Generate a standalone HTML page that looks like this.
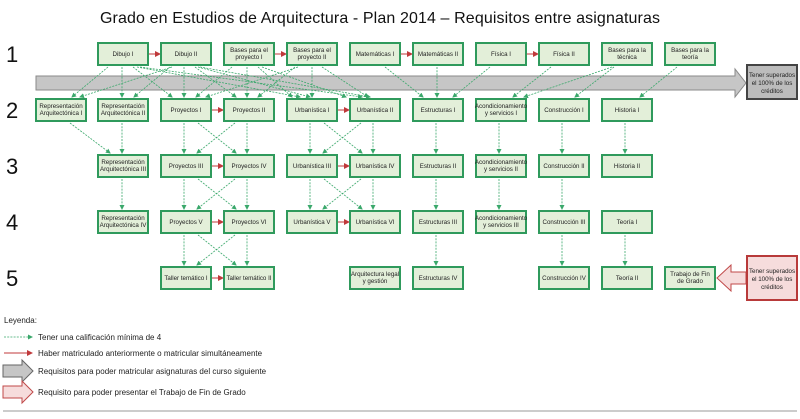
<!DOCTYPE html>
<html><head><meta charset="utf-8"><style>
html,body{margin:0;padding:0;background:#fff;}
svg{display:block;font-family:"Liberation Sans",Arial,sans-serif;}
.b{fill:#e3efd9;stroke:#2f9a5c;stroke-width:2;}
.t{font-size:6.2px;fill:#222;text-anchor:middle;}
.g{stroke:#3aa86b;stroke-width:0.8;stroke-dasharray:2,1.2;fill:none;marker-end:url(#ga);}
.r{stroke:#c0393b;stroke-width:1;fill:none;marker-end:url(#ra);}
.n{font-size:22px;fill:#111;}
.l{font-size:8px;fill:#222;}
</style></head><body>
<svg width="800" height="419" viewBox="0 0 800 419" xmlns="http://www.w3.org/2000/svg">
<defs>
<marker id="ga" markerWidth="5" markerHeight="5" refX="4" refY="2.5" orient="auto" markerUnits="userSpaceOnUse"><path d="M0,0L5,2.5L0,5z" fill="#3aa86b"/></marker>
<marker id="ra" markerWidth="6" markerHeight="6" refX="5" refY="3" orient="auto" markerUnits="userSpaceOnUse"><path d="M0,0L6,3L0,6z" fill="#c0393b"/></marker>
</defs>
<text x="380" y="23" font-size="16" text-anchor="middle" fill="#111" textLength="560">Grado en Estudios de Arquitectura - Plan 2014 – Requisitos entre asignaturas</text>
<text class="n" x="6" y="62">1</text><text class="n" x="6" y="118">2</text><text class="n" x="6" y="174">3</text><text class="n" x="6" y="230">4</text><text class="n" x="6" y="286">5</text>

<!-- gray arrow -->
<polygon points="36,76 735,76 735,69 746,83 735,97 735,90 36,90" fill="#c6c6c6" stroke="#8a8a8a" stroke-width="1"/>
<rect x="747" y="65" width="50" height="34" fill="#bcbcbc" stroke="#444" stroke-width="2"/>
<text class="t" x="772" y="77">Tener superados</text><text class="t" x="772" y="85">el 100% de los</text><text class="t" x="772" y="93">créditos</text>

<!-- green lines row1->2 -->
<g>
<line class="g" x1="108" y1="67" x2="72" y2="97"/><line class="g" x1="122" y1="67" x2="122" y2="97"/><line class="g" x1="133" y1="67" x2="172" y2="97"/><line class="g" x1="137" y1="67" x2="300" y2="97"/><line class="g" x1="140" y1="67" x2="362" y2="97"/>
<line class="g" x1="172" y1="67" x2="80" y2="97"/><line class="g" x1="184" y1="67" x2="184" y2="97"/><line class="g" x1="170" y1="67" x2="134" y2="97"/><line class="g" x1="195" y1="67" x2="236" y2="97"/><line class="g" x1="198" y1="67" x2="310" y2="97"/><line class="g" x1="200" y1="67" x2="370" y2="97"/>
<line class="g" x1="232" y1="67" x2="196" y2="97"/><line class="g" x1="247" y1="67" x2="247" y2="97"/><line class="g" x1="258" y1="67" x2="292" y2="97"/><line class="g" x1="262" y1="67" x2="346" y2="97"/>
<line class="g" x1="298" y1="67" x2="206" y2="97"/><line class="g" x1="295" y1="67" x2="258" y2="97"/><line class="g" x1="312" y1="67" x2="312" y2="97"/><line class="g" x1="322" y1="67" x2="368" y2="97"/>
<line class="g" x1="385" y1="67" x2="423" y2="97"/><line class="g" x1="437" y1="67" x2="437" y2="97"/><line class="g" x1="490" y1="67" x2="453" y2="97"/><line class="g" x1="551" y1="67" x2="513" y2="97"/><line class="g" x1="612" y1="67" x2="524" y2="97"/><line class="g" x1="614" y1="67" x2="575" y2="97"/><line class="g" x1="677" y1="67" x2="640" y2="97"/>
</g>
<!-- rows 2-5 -->
<g>
<line class="g" x1="70" y1="123" x2="110" y2="153"/><line class="g" x1="122" y1="123" x2="122" y2="153"/>
<line class="g" x1="184" y1="123" x2="184" y2="153"/><line class="g" x1="198" y1="123" x2="236" y2="153"/><line class="g" x1="235" y1="123" x2="197" y2="153"/><line class="g" x1="247" y1="123" x2="247" y2="153"/>
<line class="g" x1="310" y1="123" x2="310" y2="153"/><line class="g" x1="324" y1="123" x2="362" y2="153"/><line class="g" x1="361" y1="123" x2="323" y2="153"/><line class="g" x1="373" y1="123" x2="373" y2="153"/>
<line class="g" x1="436" y1="123" x2="436" y2="153"/><line class="g" x1="499" y1="123" x2="499" y2="153"/><line class="g" x1="562" y1="123" x2="562" y2="153"/><line class="g" x1="625" y1="123" x2="625" y2="153"/>

<line class="g" x1="122" y1="179" x2="122" y2="209"/>
<line class="g" x1="184" y1="179" x2="184" y2="209"/><line class="g" x1="198" y1="179" x2="236" y2="209"/><line class="g" x1="235" y1="179" x2="197" y2="209"/><line class="g" x1="247" y1="179" x2="247" y2="209"/>
<line class="g" x1="310" y1="179" x2="310" y2="209"/><line class="g" x1="324" y1="179" x2="362" y2="209"/><line class="g" x1="361" y1="179" x2="323" y2="209"/><line class="g" x1="373" y1="179" x2="373" y2="209"/>
<line class="g" x1="436" y1="179" x2="436" y2="209"/><line class="g" x1="499" y1="179" x2="499" y2="209"/><line class="g" x1="562" y1="179" x2="562" y2="209"/>

<line class="g" x1="184" y1="235" x2="184" y2="265"/><line class="g" x1="198" y1="235" x2="236" y2="265"/><line class="g" x1="235" y1="235" x2="197" y2="265"/><line class="g" x1="247" y1="235" x2="247" y2="265"/>
<line class="g" x1="436" y1="235" x2="436" y2="265"/><line class="g" x1="562" y1="235" x2="562" y2="265"/><line class="g" x1="625" y1="235" x2="625" y2="265"/>
</g>
<!-- red arrows -->
<g>
<line class="r" x1="149" y1="54" x2="160" y2="54"/><line class="r" x1="275" y1="54" x2="286" y2="54"/><line class="r" x1="401" y1="54" x2="412" y2="54"/><line class="r" x1="527" y1="54" x2="538" y2="54"/>
<line class="r" x1="212" y1="110" x2="223" y2="110"/><line class="r" x1="338" y1="110" x2="349" y2="110"/>
<line class="r" x1="212" y1="166" x2="223" y2="166"/><line class="r" x1="338" y1="166" x2="349" y2="166"/>
<line class="r" x1="212" y1="222" x2="223" y2="222"/><line class="r" x1="338" y1="222" x2="349" y2="222"/>
<line class="r" x1="212" y1="278" x2="223" y2="278"/>
</g>

<!-- boxes row1 -->
<g>
<rect class="b" x="98" y="43" width="50" height="22"/><text class="t" x="123" y="56">Dibujo I</text>
<rect class="b" x="161" y="43" width="50" height="22"/><text class="t" x="186" y="56">Dibujo II</text>
<rect class="b" x="224" y="43" width="50" height="22"/><text class="t" x="249" y="52">Bases para el</text><text class="t" x="249" y="59">proyecto I</text>
<rect class="b" x="287" y="43" width="50" height="22"/><text class="t" x="312" y="52">Bases para el</text><text class="t" x="312" y="59">proyecto II</text>
<rect class="b" x="350" y="43" width="50" height="22"/><text class="t" x="375" y="56">Matemáticas I</text>
<rect class="b" x="413" y="43" width="50" height="22"/><text class="t" x="438" y="56">Matemáticas II</text>
<rect class="b" x="476" y="43" width="50" height="22"/><text class="t" x="501" y="56">Física I</text>
<rect class="b" x="539" y="43" width="50" height="22"/><text class="t" x="564" y="56">Física II</text>
<rect class="b" x="602" y="43" width="50" height="22"/><text class="t" x="627" y="52">Bases para la</text><text class="t" x="627" y="59">técnica</text>
<rect class="b" x="665" y="43" width="50" height="22"/><text class="t" x="690" y="52">Bases para la</text><text class="t" x="690" y="59">teoría</text>
</g>
<!-- row2 -->
<g>
<rect class="b" x="36" y="99" width="50" height="22"/><text class="t" x="61" y="108">Representación</text><text class="t" x="61" y="115">Arquitectónica I</text>
<rect class="b" x="98" y="99" width="50" height="22"/><text class="t" x="123" y="108">Representación</text><text class="t" x="123" y="115">Arquitectónica II</text>
<rect class="b" x="161" y="99" width="50" height="22"/><text class="t" x="186" y="112">Proyectos I</text>
<rect class="b" x="224" y="99" width="50" height="22"/><text class="t" x="249" y="112">Proyectos II</text>
<rect class="b" x="287" y="99" width="50" height="22"/><text class="t" x="312" y="112">Urbanística I</text>
<rect class="b" x="350" y="99" width="50" height="22"/><text class="t" x="375" y="112">Urbanística II</text>
<rect class="b" x="413" y="99" width="50" height="22"/><text class="t" x="438" y="112">Estructuras I</text>
<rect class="b" x="476" y="99" width="50" height="22"/><text class="t" x="501" y="108" font-size="5.4">Acondicionamiento</text><text class="t" x="501" y="115">y servicios I</text>
<rect class="b" x="539" y="99" width="50" height="22"/><text class="t" x="564" y="112">Construcción I</text>
<rect class="b" x="602" y="99" width="50" height="22"/><text class="t" x="627" y="112">Historia I</text>
</g>
<!-- row3 -->
<g>
<rect class="b" x="98" y="155" width="50" height="22"/><text class="t" x="123" y="164">Representación</text><text class="t" x="123" y="171">Arquitectónica III</text>
<rect class="b" x="161" y="155" width="50" height="22"/><text class="t" x="186" y="168">Proyectos III</text>
<rect class="b" x="224" y="155" width="50" height="22"/><text class="t" x="249" y="168">Proyectos IV</text>
<rect class="b" x="287" y="155" width="50" height="22"/><text class="t" x="312" y="168">Urbanística III</text>
<rect class="b" x="350" y="155" width="50" height="22"/><text class="t" x="375" y="168">Urbanística IV</text>
<rect class="b" x="413" y="155" width="50" height="22"/><text class="t" x="438" y="168">Estructuras II</text>
<rect class="b" x="476" y="155" width="50" height="22"/><text class="t" x="501" y="164" font-size="5.4">Acondicionamiento</text><text class="t" x="501" y="171">y servicios II</text>
<rect class="b" x="539" y="155" width="50" height="22"/><text class="t" x="564" y="168">Construcción II</text>
<rect class="b" x="602" y="155" width="50" height="22"/><text class="t" x="627" y="168">Historia II</text>
</g>
<!-- row4 -->
<g>
<rect class="b" x="98" y="211" width="50" height="22"/><text class="t" x="123" y="220">Representación</text><text class="t" x="123" y="227">Arquitectónica IV</text>
<rect class="b" x="161" y="211" width="50" height="22"/><text class="t" x="186" y="224">Proyectos V</text>
<rect class="b" x="224" y="211" width="50" height="22"/><text class="t" x="249" y="224">Proyectos VI</text>
<rect class="b" x="287" y="211" width="50" height="22"/><text class="t" x="312" y="224">Urbanística V</text>
<rect class="b" x="350" y="211" width="50" height="22"/><text class="t" x="375" y="224">Urbanística VI</text>
<rect class="b" x="413" y="211" width="50" height="22"/><text class="t" x="438" y="224">Estructuras III</text>
<rect class="b" x="476" y="211" width="50" height="22"/><text class="t" x="501" y="220" font-size="5.4">Acondicionamiento</text><text class="t" x="501" y="227">y servicios III</text>
<rect class="b" x="539" y="211" width="50" height="22"/><text class="t" x="564" y="224">Construcción III</text>
<rect class="b" x="602" y="211" width="50" height="22"/><text class="t" x="627" y="224">Teoría I</text>
</g>
<!-- row5 -->
<g>
<rect class="b" x="161" y="267" width="50" height="22"/><text class="t" x="186" y="280">Taller temático I</text>
<rect class="b" x="224" y="267" width="50" height="22"/><text class="t" x="249" y="280">Taller temático II</text>
<rect class="b" x="350" y="267" width="50" height="22"/><text class="t" x="375" y="276">Arquitectura legal</text><text class="t" x="375" y="283">y gestión</text>
<rect class="b" x="413" y="267" width="50" height="22"/><text class="t" x="438" y="280">Estructuras IV</text>
<rect class="b" x="539" y="267" width="50" height="22"/><text class="t" x="564" y="280">Construcción IV</text>
<rect class="b" x="602" y="267" width="50" height="22"/><text class="t" x="627" y="280">Teoría II</text>
<rect class="b" x="665" y="267" width="50" height="22"/><text class="t" x="690" y="276">Trabajo de Fin</text><text class="t" x="690" y="283">de Grado</text>
</g>
<!-- red arrow & box -->
<polygon points="746,272 731,272 731,265 717,278 731,291 731,284 746,284" fill="#f6dcdc" stroke="#c04848" stroke-width="1"/>
<rect x="747" y="256" width="50" height="44" fill="#f6dcdc" stroke="#b83a3a" stroke-width="2"/>
<text class="t" x="772" y="273">Tener superados</text><text class="t" x="772" y="281">el 100% de los</text><text class="t" x="772" y="289">créditos</text>

<!-- legend -->
<text class="l" x="4" y="323">Leyenda:</text>
<line class="g" x1="4" y1="337" x2="32" y2="337"/><text class="l" x="38" y="340">Tener una calificación mínima de 4</text>
<line class="r" x1="4" y1="353" x2="32" y2="353"/><text class="l" x="38" y="356">Haber matriculado anteriormente o matricular simultáneamente</text>
<polygon points="3,365 22,365 22,360 33,371 22,382 22,377 3,377" fill="#c6c6c6" stroke="#666" stroke-width="1"/><text class="l" x="38" y="374">Requisitos para poder matricular asignaturas del curso siguiente</text>
<polygon points="3,386 22,386 22,381 33,392 22,403 22,398 3,398" fill="#f6dcdc" stroke="#c04848" stroke-width="1"/><text class="l" x="38" y="395">Requisito para poder presentar el Trabajo de Fin de Grado</text>
<line x1="3" y1="411" x2="797" y2="411" stroke="#bbb" stroke-width="1.5"/>
</svg>
</body></html>
